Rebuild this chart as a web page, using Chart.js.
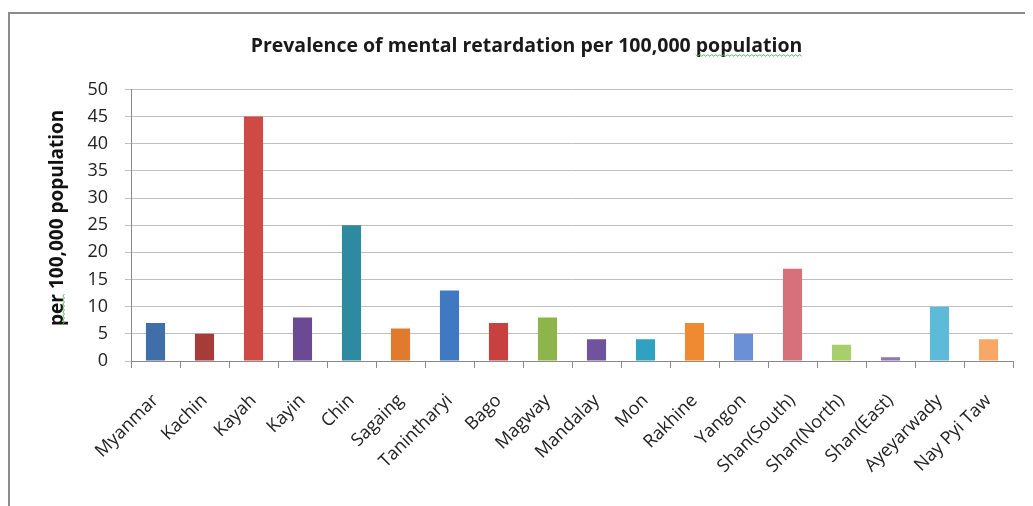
<!DOCTYPE html>
<html>
<head>
<meta charset="utf-8">
<script src="https://cdn.jsdelivr.net/npm/chart.js@4"></script>
<style>
  html, body { margin: 0; padding: 0; background: #fff; }
  #wrap { position: relative; width: 1033px; height: 506px; }
</style>
</head>
<body>
<div id="wrap"><canvas id="chart" width="1033" height="506"></canvas></div>
<script>
// data
const regions = ['Myanmar', 'Kachin', 'Kayah', 'Kayin', 'Chin', 'Sagaing', 'Tanintharyi', 'Bago',
  'Magway', 'Mandalay', 'Mon', 'Rakhine', 'Yangon', 'Shan(South)', 'Shan(North)', 'Shan(East)',
  'Ayeyarwady', 'Nay Pyi Taw'];
const prevalence = [7, 5, 45, 8, 25, 6, 13, 7, 8, 4, 4, 7, 5, 17, 3, 0.7, 10, 4];
const barColors = ['#3f6ea8', '#a63c3a', '#d04a45', '#6c4a93', '#2e8a9e', '#e07a2c', '#3e79c2', '#c9413f',
  '#8db54b', '#70539f', '#30a1bf', '#ef8a33', '#6c90d6', '#d6707a', '#a8cf6c', '#8e76b8', '#5dbad8', '#f8a866'];

const chartTitle = 'Prevalence of mental retardation per 100,000 population';
const yTitle = 'per 100,000 population';
const fontFam = '"Open Sans", "Liberation Sans", sans-serif';
const titleSize = 19.5;
const yTitleSize = 19;
const yLead = '   '; // nudges the rotated axis title up a little

function squiggle(c, x1, y1, x2, y2) {
  // small zigzag along a straight segment
  const len = Math.hypot(x2 - x1, y2 - y1);
  const ux = (x2 - x1) / len, uy = (y2 - y1) / len;
  c.beginPath();
  for (let d = 0, i = 0; d <= len; d += 2, i++) {
    const off = i % 2 ? 1.5 : 0;
    const px = x1 + ux * d - uy * off, py = y1 + uy * d + ux * off;
    if (i === 0) c.moveTo(px, py); else c.lineTo(px, py);
  }
  c.stroke();
}

// frame around the chart + spellcheck squiggles
const framePlugin = {
  id: 'frame',
  beforeDraw(chart) {
    const c = chart.ctx;
    c.save();
    c.fillStyle = '#fff';
    c.fillRect(0, 0, chart.width, chart.height);
    c.strokeStyle = '#8c8c8c';
    c.lineWidth = 2;
    c.beginPath();
    c.moveTo(9, chart.height);
    c.lineTo(9, 13);
    c.lineTo(chart.width - 8, 13);
    c.stroke();
    c.restore();
  },
  afterDraw(chart) {
    const t = chart.titleBlock;
    const c = chart.ctx;
    c.save();
    c.strokeStyle = '#5cb85c';
    c.lineWidth = 1;
    if (t) {
      c.font = 'bold ' + titleSize + 'px ' + fontFam;
      const full = c.measureText(chartTitle).width;
      const wordW = c.measureText('population').width;
      const cx = (t.left + t.right) / 2;
      const cy = t.top + t.options.padding.top + titleSize * 1.2 / 2;
      squiggle(c, cx + full / 2 - wordW, cy + 8, cx + full / 2, cy + 8);
    }
    const ys = chart.scales.y;
    c.font = 'bold ' + yTitleSize + 'px ' + fontFam;
    const yFull = c.measureText(yLead + yTitle).width;
    const leadW = c.measureText(yLead).width;
    const perW = c.measureText('per').width;
    const tx = ys.left + ys.options.title.padding.top + yTitleSize * 1.2 / 2 + 7;
    const tcy = (chart.chartArea.top + chart.chartArea.bottom) / 2;
    const start = tcy + yFull / 2 - leadW;
    squiggle(c, tx, start - perW, tx, start);
    c.restore();
  }
};

new Chart(document.getElementById('chart'), {
  type: 'bar',
  data: {
    labels: regions,
    datasets: [{
      data: prevalence,
      backgroundColor: barColors,
      borderWidth: 0,
      categoryPercentage: 1,
      barPercentage: 0.39
    }]
  },
  options: {
    responsive: false,
    animation: false,
    layout: { padding: { left: 40, right: 20, top: 0, bottom: 0 } },
    plugins: {
      legend: { display: false },
      tooltip: { enabled: false },
      title: {
        display: true,
        text: chartTitle,
        color: '#1a1a1a',
        font: { family: fontFam, size: titleSize, weight: 'bold' },
        padding: { top: 35, bottom: 31 }
      }
    },
    scales: {
      x: {
        grid: { display: true, drawOnChartArea: false, drawTicks: true, tickLength: 7, offset: true, color: '#8a8a8a' },
        border: { display: true, color: '#8a8a8a', width: 1 },
        ticks: {
          minRotation: 45, maxRotation: 45, autoSkip: false,
          color: '#222', padding: 22,
          font: { family: fontFam, size: 18 }
        },
        afterFit(scale) { scale.height = 145; }
      },
      y: {
        min: 0, max: 50,
        grid: { color: '#c0c0c0', tickLength: 6, drawTicks: true },
        border: { display: true, color: '#8a8a8a', width: 1 },
        ticks: {
          stepSize: 5, color: '#222', padding: 17,
          font: { family: fontFam, size: 18 }
        },
        title: {
          display: true,
          text: yLead + yTitle,
          color: '#111',
          font: { family: fontFam, size: yTitleSize, weight: 'bold' },
          padding: { top: 6, bottom: 0 }
        },
        afterFit(scale) { scale.width = 91; }
      }
    }
  },
  plugins: [framePlugin]
});
</script>
</body>
</html>
